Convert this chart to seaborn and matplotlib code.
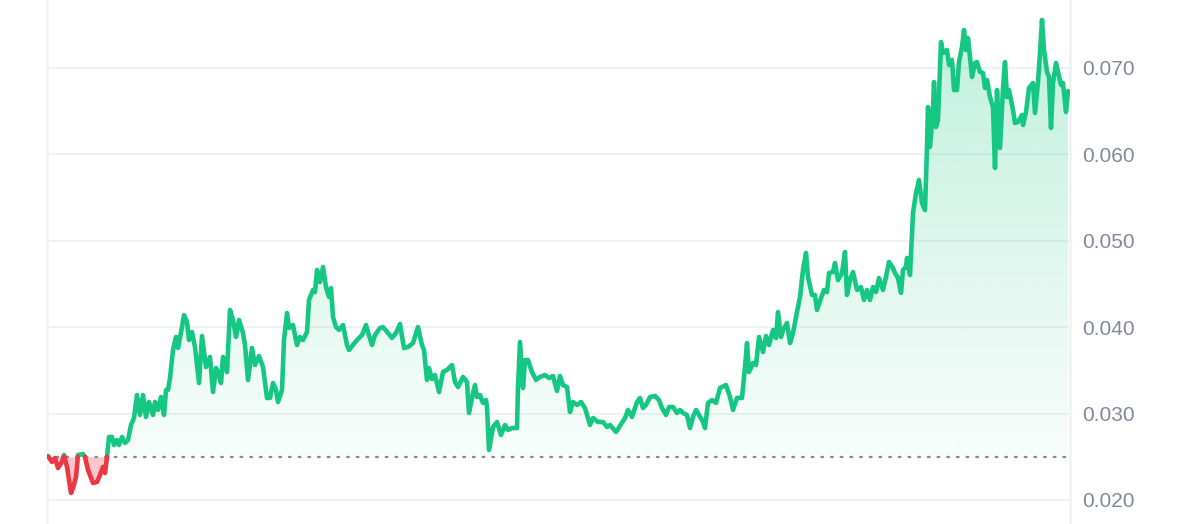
import numpy as np
import pandas as pd
import seaborn as sns
import matplotlib as mpl
import matplotlib.pyplot as plt
from matplotlib.path import Path

# time steps (sample index) and price
step = [
    0, 4, 7, 10, 14, 16, 19, 23, 25, 28, 30, 35, 37, 40, 45, 49, 52, 55, 57, 59,
    61, 64, 66, 69, 71, 74, 77, 80, 83, 86, 89, 92, 95, 98, 101, 105, 107, 110, 113, 116,
    118, 120, 122, 125, 128, 130, 134, 136, 139, 141, 144, 147, 151, 154, 158, 162, 165, 168, 170, 173,
    175, 179, 182, 185, 188, 191, 195, 197, 200, 204, 207, 211, 215, 219, 222, 225, 228, 230, 234, 236,
    239, 241, 245, 249, 252, 255, 259, 261, 265, 267, 269, 272, 275, 278, 281, 283, 285, 288, 291, 295,
    299, 301, 305, 309, 314, 318, 320, 324, 327, 332, 335, 340, 344, 348, 352, 356, 360, 365, 370, 374,
    376, 379, 381, 384, 387, 391, 395, 399, 404, 407, 410, 415, 419, 421, 425, 427, 429, 432, 435, 438,
    439, 441, 445, 449, 453, 457, 460, 464, 469, 470, 472, 475, 477, 480, 484, 488, 492, 497, 501, 505,
    509, 512, 515, 519, 522, 525, 529, 533, 537, 542, 545, 550, 555, 559, 562, 568, 572, 577, 580, 584,
    589, 592, 595, 598, 602, 607, 611, 614, 618, 621, 625, 629, 632, 635, 639, 642, 645, 648, 651, 655,
    657, 660, 664, 668, 672, 678, 682, 685, 689, 694, 697, 699, 701, 705, 708, 711, 715, 718, 721, 725,
    728, 730, 733, 735, 739, 742, 745, 749, 752, 755, 758, 760, 764, 767, 769, 773, 776, 779, 781, 785,
    787, 790, 794, 797, 799, 802, 805, 809, 813, 816, 819, 822, 825, 828, 831, 835, 838, 841, 845, 847,
    850, 853, 855, 858, 859, 862, 865, 868, 871, 874, 877, 879, 880, 882, 885, 886, 888, 890, 893, 895,
    899, 901, 904, 906, 909, 911, 914, 916, 918, 920, 924, 927, 929, 932, 935, 937, 939, 942, 945, 947,
    949, 952, 955, 957, 959, 961, 965, 967, 970, 974, 975, 978, 981, 985, 987, 990, 992, 994, 996, 999,
    1001, 1003, 1005, 1008, 1010, 1013, 1015, 1018, 1020,
]
price = [
    0.02509, 0.02440, 0.02486, 0.02370, 0.02440, 0.02521, 0.02382, 0.02081, 0.02139, 0.02266,
    0.02521, 0.02532, 0.02498, 0.02347, 0.02197, 0.02208, 0.02289, 0.02382, 0.02313, 0.02498,
    0.02729, 0.02729, 0.02637, 0.02694, 0.02637, 0.02729, 0.02660, 0.02694, 0.02868, 0.02949,
    0.03215, 0.02984, 0.03215, 0.02961, 0.03134, 0.02984, 0.03134, 0.03042, 0.03192, 0.02984,
    0.03273, 0.03273, 0.03412, 0.03736, 0.03887, 0.03759, 0.04002, 0.04141, 0.04060, 0.03852,
    0.03944, 0.03771, 0.03354, 0.03898, 0.03539, 0.03655, 0.03250, 0.03528, 0.03481, 0.03354,
    0.03655, 0.03481, 0.04199, 0.04083, 0.03887, 0.04083, 0.03933, 0.03794, 0.03389, 0.03759,
    0.03562, 0.03667, 0.03539, 0.03181, 0.03181, 0.03354, 0.03273, 0.03134, 0.03273, 0.03852,
    0.04164, 0.03991, 0.04025, 0.03794, 0.03887, 0.03852, 0.03944, 0.04315, 0.04431, 0.04407,
    0.04662, 0.04523, 0.04697, 0.04465, 0.04350, 0.04453, 0.04118, 0.04002, 0.03968, 0.04025,
    0.03794, 0.03736, 0.03794, 0.03852, 0.03910, 0.04025, 0.03944, 0.03794, 0.03910, 0.03991,
    0.04002, 0.03933, 0.03875, 0.03933, 0.04037, 0.03759, 0.03771, 0.03817, 0.04002, 0.03794,
    0.03736, 0.03389, 0.03528, 0.03400, 0.03447, 0.03250, 0.03481, 0.03505, 0.03562, 0.03366,
    0.03308, 0.03424, 0.03366, 0.03007, 0.03238, 0.03331, 0.03192, 0.03215, 0.03123, 0.03157,
    0.03076, 0.02579, 0.02845, 0.02903, 0.02752, 0.02868, 0.02810, 0.02833, 0.02833, 0.03308,
    0.03829, 0.03296, 0.03620, 0.03620, 0.03481, 0.03389, 0.03424, 0.03447, 0.03412, 0.03435,
    0.03262, 0.03435, 0.03331, 0.03308, 0.03019, 0.03134, 0.03100, 0.03134, 0.03065, 0.02868,
    0.02949, 0.02903, 0.02903, 0.02845, 0.02868, 0.02787, 0.02857, 0.02949, 0.03042, 0.02961,
    0.03134, 0.03181, 0.03065, 0.03100, 0.03192, 0.03204, 0.03157, 0.03065, 0.02984, 0.03076,
    0.03076, 0.03007, 0.03042, 0.03007, 0.02984, 0.02833, 0.02961, 0.03042, 0.02984, 0.02903,
    0.02833, 0.03123, 0.03157, 0.03123, 0.03296, 0.03331, 0.03192, 0.03042, 0.03181, 0.03181,
    0.03539, 0.03817, 0.03481, 0.03586, 0.03562, 0.03887, 0.03713, 0.03898, 0.03794, 0.03968,
    0.03875, 0.04176, 0.03887, 0.03968, 0.04049, 0.03817, 0.03933, 0.04176, 0.04350, 0.04662,
    0.04859, 0.04581, 0.04373, 0.04373, 0.04199, 0.04338, 0.04431, 0.04407, 0.04627, 0.04639,
    0.04743, 0.04546, 0.04627, 0.04870, 0.04373, 0.04546, 0.04639, 0.04431, 0.04465, 0.04315,
    0.04431, 0.04315, 0.04465, 0.04407, 0.04569, 0.04431, 0.04581, 0.04755, 0.04685, 0.04627,
    0.04569, 0.04396, 0.04662, 0.04697, 0.04801, 0.04604, 0.05322, 0.05553, 0.05704, 0.05438,
    0.05356, 0.06086, 0.06549, 0.06086, 0.06514, 0.06838, 0.06317, 0.06398, 0.07301, 0.07174,
    0.07208, 0.07035, 0.07093, 0.06745, 0.06745, 0.07069, 0.07243, 0.07440, 0.07208, 0.07347,
    0.06896, 0.07058, 0.07069, 0.06954, 0.06942, 0.06769, 0.06861, 0.06664, 0.06549, 0.05843,
    0.06745, 0.06074, 0.06769, 0.07069, 0.06664, 0.06745, 0.06514, 0.06363, 0.06375, 0.06456,
    0.06340, 0.06491, 0.06769, 0.06826, 0.06479, 0.06838, 0.07174, 0.07556, 0.07208, 0.06954,
    0.06896, 0.06306, 0.06826, 0.07058, 0.06954, 0.06803, 0.06826, 0.06491, 0.06734,
]
base_price = 0.025
y_ticks = [0.020, 0.030, 0.040, 0.050, 0.060, 0.070]

GREEN = '#16c784'
RED = '#ea3943'
GRID = '#eff2f5'
TEXT = '#808a9d'


def add_crossings(x, y, base):
    # insert points on the base line so green and red parts meet exactly there
    xs, ys = [x[0]], [y[0]]
    for i in range(1, len(x)):
        y0, y1 = y[i - 1], y[i]
        if (y0 - base) * (y1 - base) < 0:
            xs.append(x[i - 1] + (base - y0) * (x[i] - x[i - 1]) / (y1 - y0))
            ys.append(base)
        xs.append(x[i])
        ys.append(y1)
    return np.array(xs, dtype=float), np.array(ys, dtype=float)


def main():
    xs, ys = add_crossings(step, price, base_price)

    # split into runs above / below the base price
    pair_side = np.where((ys[:-1] + ys[1:]) / 2 >= base_price, 'up', 'down')
    rows = []
    seg, start = 0, 0
    for i in range(1, len(pair_side) + 1):
        if i == len(pair_side) or pair_side[i] != pair_side[start]:
            for j in range(start, i + 1):
                rows.append((xs[j], ys[j], pair_side[start], seg))
            seg += 1
            start = i
    df = pd.DataFrame(rows, columns=['step', 'price', 'side', 'seg'])

    sns.set_theme(style='white')
    plt.rcParams['font.family'] = ['Liberation Sans', 'DejaVu Sans']

    fig = plt.figure(figsize=(12, 5.24), dpi=100)
    ax = fig.add_axes([47 / 1200, 0, 1023 / 1200, 1])

    # green gradient area above the base line
    up_fill = ax.fill_between(xs, np.maximum(ys, base_price), base_price,
                              facecolor='none', edgecolor='none')
    clip = Path.make_compound_path(*up_fill.get_paths())
    grad = np.zeros((256, 1, 4))
    grad[..., :3] = mpl.colors.to_rgb(GREEN)
    grad[:, 0, 3] = np.linspace(0.27, 0.03, 256)
    im = ax.imshow(grad, extent=[xs.min(), xs.max(), base_price, ys.max()],
                   aspect='auto', origin='upper', zorder=1, interpolation='bilinear')
    im.set_clip_path(clip, ax.transData)

    # red area below the base line
    ax.fill_between(xs, np.minimum(ys, base_price), base_price,
                    color=RED, alpha=0.28, lw=0, zorder=1)

    sns.lineplot(data=df, x='step', y='price', hue='side', units='seg',
                 estimator=None, sort=False, palette={'up': GREEN, 'down': RED},
                 linewidth=3.3, legend=False, ax=ax, zorder=3)
    for line in ax.get_lines():
        line.set_solid_joinstyle('round')
        line.set_solid_capstyle('round')

    ax.axhline(base_price, color='#858d9c', lw=1.7, linestyle=(0, (0.7, 3.4)),
               dash_capstyle='round', zorder=2)

    ax.set_xlim(-1, 1022)
    ax.set_ylim(0.01722, 0.07787)
    ax.set_yticks(y_ticks)
    ax.yaxis.set_major_formatter(mpl.ticker.FormatStrFormatter('%.3f'))
    ax.yaxis.tick_right()
    ax.tick_params(axis='y', length=0, pad=9, labelsize=15, labelcolor=TEXT)
    ax.set_xticks([])
    ax.set_xlabel('')
    ax.set_ylabel('')
    ax.grid(axis='y', color=GRID, lw=1.5, zorder=0)
    ax.set_axisbelow(True)
    for side in ['top', 'bottom']:
        ax.spines[side].set_visible(False)
    for side in ['left', 'right']:
        ax.spines[side].set_color(GRID)
        ax.spines[side].set_linewidth(1.8)

    fig.savefig('out.png', dpi=100)


if __name__ == "__main__":
    main()
